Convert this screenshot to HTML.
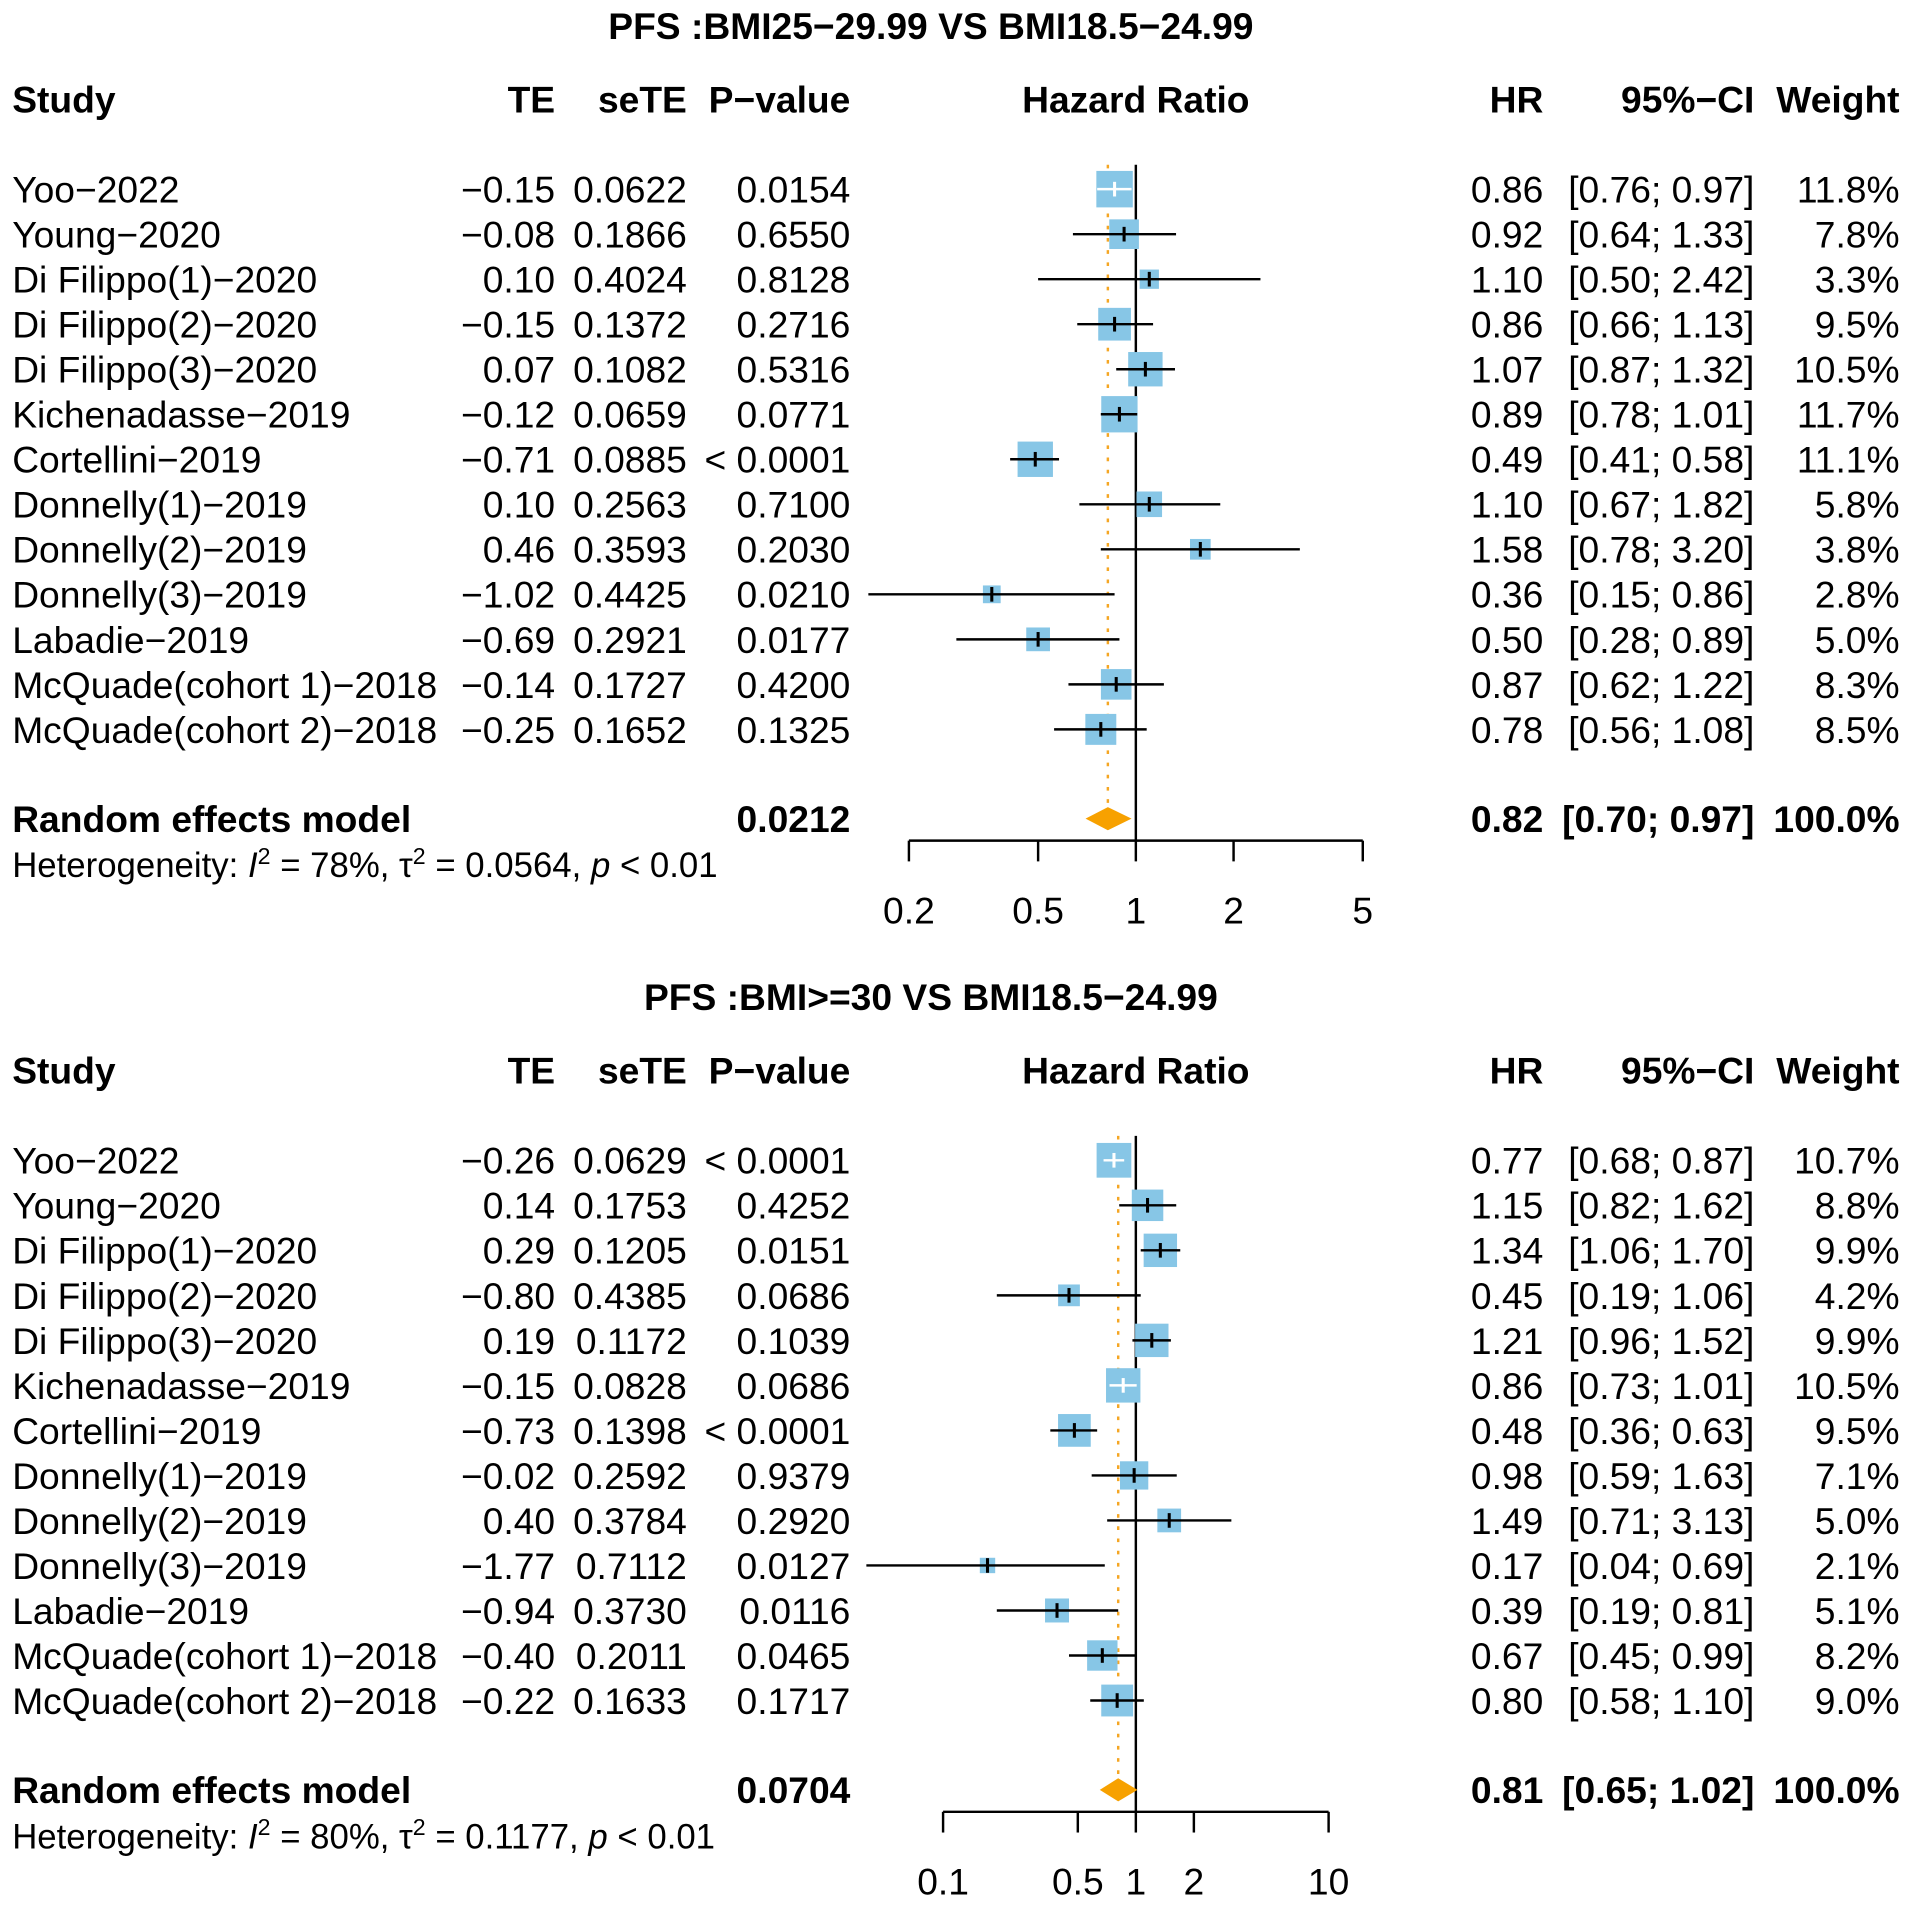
<!DOCTYPE html>
<html><head><meta charset="utf-8"><style>
html,body{margin:0;padding:0;background:#fff}
svg{display:block}
text{font-family:"Liberation Sans",Arial,sans-serif;fill:#000}
</style></head><body>
<svg id="chart" width="1913" height="1907" viewBox="0 0 1568 1563" xmlns="http://www.w3.org/2000/svg"></svg>
<script>
// Panel 1 data
const studies = ["Yoo\u22122022","Young\u22122020","Di Filippo(1)\u22122020","Di Filippo(2)\u22122020","Di Filippo(3)\u22122020","Kichenadasse\u22122019","Cortellini\u22122019","Donnelly(1)\u22122019","Donnelly(2)\u22122019","Donnelly(3)\u22122019","Labadie\u22122019","McQuade(cohort 1)\u22122018","McQuade(cohort 2)\u22122018"];
const te1 = ["\u22120.15","\u22120.08","0.10","\u22120.15","0.07","\u22120.12","\u22120.71","0.10","0.46","\u22121.02","\u22120.69","\u22120.14","\u22120.25"];
const se1 = ["0.0622","0.1866","0.4024","0.1372","0.1082","0.0659","0.0885","0.2563","0.3593","0.4425","0.2921","0.1727","0.1652"];
const pv1 = ["0.0154","0.6550","0.8128","0.2716","0.5316","0.0771","< 0.0001","0.7100","0.2030","0.0210","0.0177","0.4200","0.1325"];
const hr1 = [0.86,0.92,1.10,0.86,1.07,0.89,0.49,1.10,1.58,0.36,0.50,0.87,0.78];
const lo1 = [0.76,0.64,0.50,0.66,0.87,0.78,0.41,0.67,0.78,0.15,0.28,0.62,0.56];
const hi1 = [0.97,1.33,2.42,1.13,1.32,1.01,0.58,1.82,3.20,0.86,0.89,1.22,1.08];
const wt1 = [11.8,7.8,3.3,9.5,10.5,11.7,11.1,5.8,3.8,2.8,5.0,8.3,8.5];
const pooled1 = [0.82,0.70,0.97];
const ticks1 = [0.2,0.5,1,2,5];
// Panel 2 data
const te2 = ["\u22120.26","0.14","0.29","\u22120.80","0.19","\u22120.15","\u22120.73","\u22120.02","0.40","\u22121.77","\u22120.94","\u22120.40","\u22120.22"];
const se2 = ["0.0629","0.1753","0.1205","0.4385","0.1172","0.0828","0.1398","0.2592","0.3784","0.7112","0.3730","0.2011","0.1633"];
const pv2 = ["< 0.0001","0.4252","0.0151","0.0686","0.1039","0.0686","< 0.0001","0.9379","0.2920","0.0127","0.0116","0.0465","0.1717"];
const hr2 = [0.77,1.15,1.34,0.45,1.21,0.86,0.48,0.98,1.49,0.17,0.39,0.67,0.80];
const lo2 = [0.68,0.82,1.06,0.19,0.96,0.73,0.36,0.59,0.71,0.04,0.19,0.45,0.58];
const hi2 = [0.87,1.62,1.70,1.06,1.52,1.01,0.63,1.63,3.13,0.69,0.81,0.99,1.10];
const wt2 = [10.7,8.8,9.9,4.2,9.9,10.5,9.5,7.1,5.0,2.1,5.1,8.2,9.0];
const pooled2 = [0.81,0.65,1.02];
const ticks2 = [0.1,0.5,1,2,10];

const NS="http://www.w3.org/2000/svg";
const svg=document.getElementById('chart');
const FS=30.5;
function mk(tag,attrs,parent){const e=document.createElementNS(NS,tag);for(const k in attrs)e.setAttribute(k,attrs[k]);(parent||svg).appendChild(e);return e;}
function txt(g,x,y,s,anchor,size,bold,name){
  const t=mk('text',{x:x,y:y,'text-anchor':anchor,'font-size':size,'font-weight':bold?'bold':'normal'},g);
  t.textContent=s;
  
  
  return t;
}
function f2(v){return v.toFixed(2);}
function panel(oy,title,te,se,pv,hr,lo,hi,wt,pooled,pooledP,ticks,xmin,xmax,het,id){
  const g=mk('g',{});
  
  
  const x1=931;
  const k=(xmax-x1)/Math.log10(ticks[ticks.length-1]);
  const X=v=>x1+k*Math.log10(v);
  txt(g,763,oy+32,title,'middle',FS,true,'panel-title');
  const hy=oy+92;
  txt(g,10,hy,'Study','start',FS,true,'header-study');
  txt(g,455,hy,'TE','end',FS,true,'header-te');
  txt(g,563,hy,'seTE','end',FS,true,'header-sete');
  txt(g,697,hy,'P\u2212value','end',FS,true,'header-pvalue');
  txt(g,931,hy,'Hazard Ratio','middle',FS,true,'header-hazard-ratio');
  txt(g,1265,hy,'HR','end',FS,true,'header-hr');
  txt(g,1438,hy,'95%\u2212CI','end',FS,true,'header-ci');
  txt(g,1557,hy,'Weight','end',FS,true,'header-weight');
  const rowY=i=>oy+155+i*36.9;
  const poolY=oy+671, axY=oy+689;
  const rl=mk('line',{x1:x1,x2:x1,y1:oy+135,y2:axY,stroke:'#000','stroke-width':2},g);
  
  
  const pl=mk('line',{x1:X(pooled[0]),x2:X(pooled[0]),y1:oy+135,y2:poolY,stroke:'#f5a623','stroke-width':2,'stroke-dasharray':'3,7'},g);
  
  
  for(let i=0;i<studies.length;i++){
    const y=rowY(i), ty=y+11;
    const rg=mk('g',{},g);
    
    
    txt(rg,10,ty,studies[i],'start',FS,false,'study-name');
    txt(rg,455,ty,te[i],'end',FS,false,'te-value');
    txt(rg,563,ty,se[i],'end',FS,false,'sete-value');
    txt(rg,697,ty,pv[i],'end',FS,false,'p-value');
    txt(rg,1265,ty,f2(hr[i]),'end',FS,false,'hr-value');
    txt(rg,1438,ty,'['+f2(lo[i])+'; '+f2(hi[i])+']','end',FS,false,'ci-value');
    txt(rg,1557,ty,wt[i].toFixed(1)+'%','end',FS,false,'weight-value');
    const s=8.7*Math.sqrt(wt[i]);
    const cx=X(hr[i]);
    const b=mk('rect',{x:cx-s/2,y:y-s/2,width:s,height:s,fill:'#87c6e6'},rg);
    
    
    const a=X(lo[i]), c=X(hi[i]);
    const inside=(a>=cx-s/2 && c<=cx+s/2);
    const col=inside?'#fff':'#000';
    const ci=mk('line',{x1:a,x2:c,y1:y,y2:y,stroke:col,'stroke-width':2},rg);
    
    
    const tk=mk('line',{x1:cx,x2:cx,y1:y-6,y2:y+6,stroke:col,'stroke-width':2.5},rg);
    
    
  }
  txt(g,10,poolY+11,'Random effects model','start',FS,true,'random-effects-label');
  txt(g,697,poolY+11,pooledP,'end',FS,true,'random-effects-pvalue');
  txt(g,1265,poolY+11,f2(pooled[0]),'end',FS,true,'random-effects-hr');
  txt(g,1438,poolY+11,'['+f2(pooled[1])+'; '+f2(pooled[2])+']','end',FS,true,'random-effects-ci');
  txt(g,1557,poolY+11,'100.0%','end',FS,true,'random-effects-weight');
  const d=mk('polygon',{points:[X(pooled[1])+','+poolY,X(pooled[0])+','+(poolY-9.5),X(pooled[2])+','+poolY,X(pooled[0])+','+(poolY+9.5)].join(' '),fill:'#f7a100'},g);
  
  
  const h=mk('text',{x:10,y:oy+719,'font-size':28.5},g);
  
  
  h.innerHTML='Heterogeneity: <tspan font-style="italic">I</tspan><tspan dy="-11" font-size="19">2</tspan><tspan dy="11"> = '+het[0]+', \u03c4</tspan><tspan dy="-11" font-size="19">2</tspan><tspan dy="11"> = '+het[1]+', </tspan><tspan font-style="italic">p</tspan> &lt; 0.01';
  const ax=mk('g',{},g);
  
  
  mk('line',{x1:X(ticks[0]),x2:X(ticks[ticks.length-1]),y1:axY,y2:axY,stroke:'#000','stroke-width':2},ax);
  ticks.forEach(t=>{
    const tl=mk('line',{x1:X(t),x2:X(t),y1:axY,y2:axY+17,stroke:'#000','stroke-width':2},ax);
    
    
    txt(ax,X(t),axY+68,String(t),'middle',FS,false,'x-tick-label');
  });
}
panel(0,'PFS :BMI25\u221229.99 VS BMI18.5\u221224.99',te1,se1,pv1,hr1,lo1,hi1,wt1,pooled1,'0.0212',ticks1,746,1117,['78%','0.0564'],'panel-bmi25-29');
panel(796,'PFS :BMI>=30 VS BMI18.5\u221224.99',te2,se2,pv2,hr2,lo2,hi2,wt2,pooled2,'0.0704',ticks2,773,1089,['80%','0.1177'],'panel-bmi30');
</script>
</body></html>
